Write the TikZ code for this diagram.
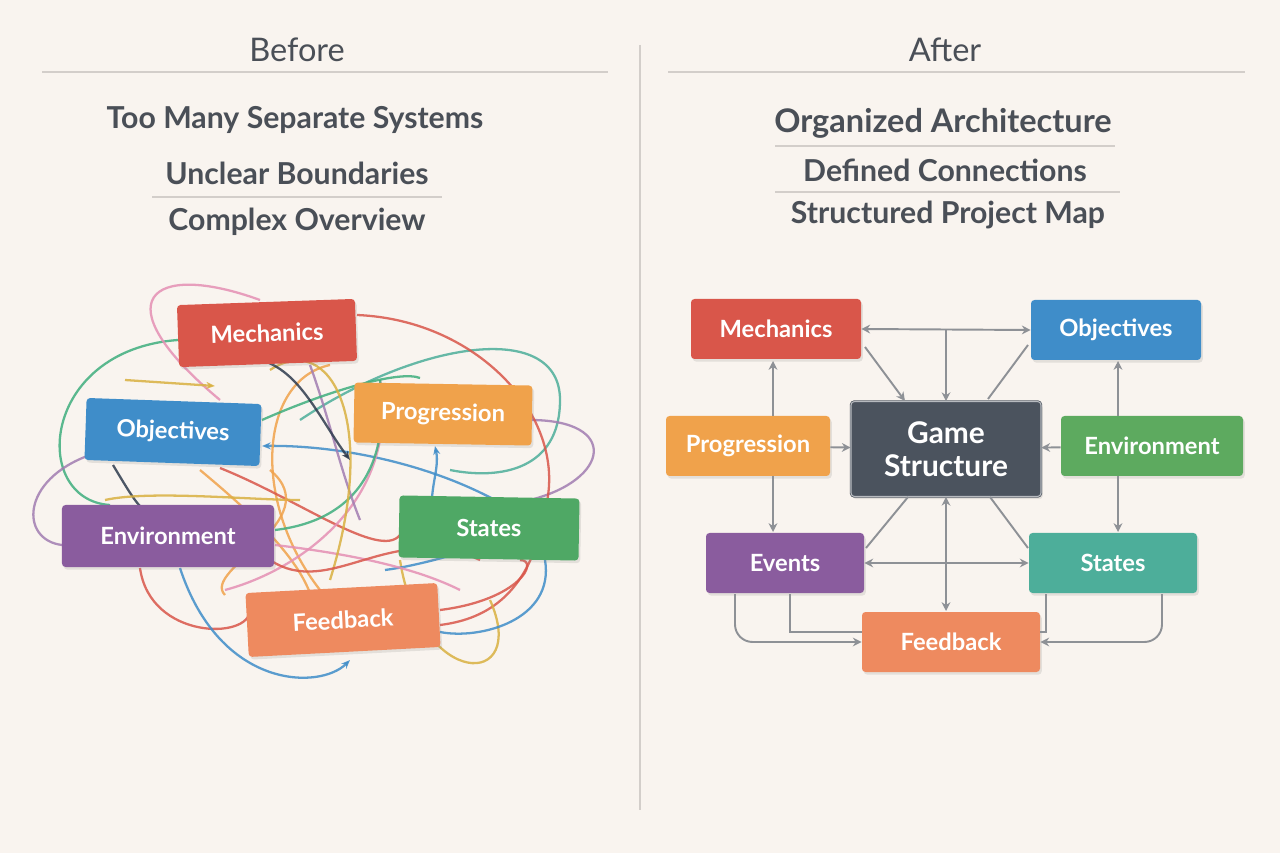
\documentclass[tikz,border=0pt]{standalone}
\usepackage{fontspec}
\setmainfont{Lato}
\usetikzlibrary{arrows.meta,shadows}

\definecolor{bgcol}{HTML}{F9F4EF}
\definecolor{inkcol}{HTML}{4A4F57}
\definecolor{rulecol}{HTML}{D3CECA}
\definecolor{mechcol}{HTML}{D9564A}
\definecolor{objcol}{HTML}{3F8DC9}
\definecolor{progcol}{HTML}{F0A24B}
\definecolor{envcol}{HTML}{8A5C9E}
\definecolor{envgreen}{HTML}{5DAA5F}
\definecolor{statecol}{HTML}{4FA865}
\definecolor{teal}{HTML}{4DAE9A}
\definecolor{feedcol}{HTML}{EE8A5F}
\definecolor{gamecol}{HTML}{4B535E}
\definecolor{wirecol}{HTML}{8E9196}
\definecolor{navy}{HTML}{2E3B4E}
\definecolor{lgreen}{HTML}{3FAE7E}
\definecolor{lpink}{HTML}{E58FB4}
\definecolor{lyellow}{HTML}{D9B040}

\tikzset{
  box/.style={rectangle, rounded corners=2pt, text=white, font=\bfseries\fontsize{13.5}{15}\selectfont,
    inner sep=0pt, drop shadow={opacity=0.18, shadow xshift=1pt, shadow yshift=-1.5pt}},
  title/.style={text=inkcol, font=\fontsize{18.5}{20}\selectfont},
  heading/.style={text=inkcol, font=\bfseries\fontsize{17.2}{19}\selectfont},
  rulel/.style={draw=rulecol, line width=0.8pt},
  wire/.style={draw=wirecol, line width=1.1pt, -{Stealth[length=5pt,width=5pt]}},
  wires/.style={draw=wirecol, line width=1.1pt, {Stealth[length=5pt,width=5pt]}-{Stealth[length=5pt,width=5pt]}},
  line/.style={draw=wirecol, line width=1.1pt},
  tangle/.style={line width=1.3pt, opacity=0.85},
  tip/.style={-{Stealth[length=5pt,width=4pt]}}
}

\begin{document}
\begin{tikzpicture}[x=0.2mm, y=-0.2mm]
\fill[bgcol] (0,0) rectangle (1280,853);
\useasboundingbox (0,0) rectangle (1280,853);

% headers
\node (before) [title] at (297,50) {Before};
\node (after) [title] at (945,50) {After};
\draw[rulel] (42,72) -- (608,72);
\draw[rulel] (668,72) -- (1245,72);
\draw[rulel] (640,45) -- (640,810);

\node (b1) [heading] at (295,120) {Too Many Separate Systems};
\node (b2) [heading] at (297,173) {Unclear Boundaries};
\draw[rulel] (152,197) -- (442,197);
\node (b3) [heading] at (297,222) {Complex Overview};

\node (a1) [heading, font=\bfseries\fontsize{18.5}{20}\selectfont] at (943,123) {Organized Architecture};
\draw[rulel] (775,146) -- (1115,146);
\node (a2) [heading] at (945,170) {Defined Connections};
\draw[rulel] (775,192) -- (1120,192);
\node (a3) [heading] at (948,215) {Structured Project Map};

% tangled curves
\begin{scope}[tangle]
\draw[lgreen] (178,340) .. controls (40,350) and (30,500) .. (110,505);
\draw[lpink] (220,400) .. controls (100,300) and (150,260) .. (260,300);
\draw[teal] (300,420) .. controls (420,340) and (560,320) .. (560,400) .. controls (560,470) and (500,480) .. (450,470);
\draw[envcol!80] (530,420) .. controls (620,420) and (610,480) .. (530,500);
\draw[envcol!80] (90,455) .. controls (20,480) and (20,540) .. (62,545);
\draw[mechcol] (357,315) .. controls (480,320) and (570,420) .. (545,510) .. controls (530,600) and (480,620) .. (440,625);
\draw[objcol, tip] (495,500) .. controls (420,460) and (330,445) .. (262,446);
\draw[lyellow, tip] (125,380) -- (215,386);
\draw[navy] (113,465) .. controls (140,510) .. (165,522);
\draw[progcol] (320,590) .. controls (250,500) and (260,380) .. (330,365);
\draw[mechcol] (140,568) .. controls (150,640) and (250,640) .. (250,610);
\draw[objcol, tip] (180,568) .. controls (220,690) and (320,690) .. (350,660);
\draw[lyellow] (400,560) .. controls (420,690) and (530,690) .. (490,600);
\draw[progcol] (200,470) .. controls (260,520) and (350,600) .. (300,650);
\draw[mechcol] (220,468) .. controls (300,500) and (380,560) .. (400,535);
\draw[lpink] (225,590) .. controls (300,570) and (400,500) .. (380,380);
\draw[lgreen] (275,530) .. controls (360,520) and (390,460) .. (380,380);
\draw[objcol] (385,570) .. controls (460,560) and (530,520) .. (545,560) .. controls (555,620) and (480,640) .. (440,632);
\draw[mechcol] (440,610) .. controls (520,600) and (540,560) .. (520,560);
\draw[envcol!80] (310,365) .. controls (330,420) and (340,470) .. (360,520);
\draw[lyellow] (105,500) .. controls (150,490) and (250,500) .. (300,500);
\draw[objcol, tip] (433,520) .. controls (428,490) and (440,470) .. (435,446);
\draw[lgreen] (262,420) .. controls (330,390) and (400,370) .. (420,378);
\draw[lpink] (275,545) .. controls (360,555) and (420,570) .. (460,590);
\draw[lyellow] (270,370) .. controls (330,330) and (380,420) .. (330,580);
\draw[navy, tip] (260,360) .. controls (300,370) and (320,420) .. (350,460);
\draw[mechcol] (270,560) .. controls (330,600) and (390,520) .. (480,560);
\draw[progcol] (270,470) .. controls (330,520) and (200,570) .. (225,595);
\end{scope}

% left nodes
\node (lmech) [box, fill=mechcol, rotate=2, minimum width=3.56cm, minimum height=1.24cm] at (267,333) {Mechanics};
\node (lobj) [box, fill=objcol, rotate=-2, minimum width=3.5cm, minimum height=1.24cm] at (173,432) {Objectives};
\node (lprog) [box, fill=progcol, rotate=-1, minimum width=3.56cm, minimum height=1.2cm] at (443,414) {Progression};
\node (lenv) [box, fill=envcol, minimum width=4.24cm, minimum height=1.24cm] at (168,536) {Environment};
\node (lstate) [box, fill=statecol, rotate=-1, minimum width=3.6cm, minimum height=1.24cm] at (489,528) {States};
\node (lfeed) [box, fill=feedcol, rotate=3, minimum width=3.84cm, minimum height=1.28cm] at (343,620) {Feedback};

% right nodes
\node (mech) [box, fill=mechcol, minimum width=3.4cm, minimum height=1.2cm] at (776,329) {Mechanics};
\node (obj) [box, fill=objcol, minimum width=3.4cm, minimum height=1.2cm] at (1116,330) {Objectives};
\node (prog) [box, fill=progcol, minimum width=3.28cm, minimum height=1.2cm] at (748,446) {Progression};
\node (game) [box, fill=gamecol, minimum width=3.8cm, minimum height=1.9cm, align=center,
  font=\bfseries\fontsize{17}{19}\selectfont, double=white!60!gamecol, draw=gamecol, double distance=0.6pt] at (946,449) {Game\\Structure};
\node (env) [box, fill=envgreen, minimum width=3.64cm, minimum height=1.2cm] at (1152,446) {Environment};
\node (event) [box, fill=envcol, minimum width=3.16cm, minimum height=1.2cm] at (785,563) {Events};
\node (state) [box, fill=teal, minimum width=3.36cm, minimum height=1.2cm] at (1113,563) {States};
\node (feed) [box, fill=feedcol, minimum width=3.56cm, minimum height=1.2cm] at (951,642) {Feedback};

% right connectors
\coordinate (top) at (946,330);
\coordinate (mechse) at (865,347);
\coordinate (gamenw) at (905,401);
\coordinate (objsw) at (1028,345);
\coordinate (gamene) at (988,399);
\coordinate (gamesw) at (908,497);
\coordinate (gamese) at (990,497);
\coordinate (eventne) at (866,548);
\coordinate (statenw) at (1028,548);
\coordinate (prog1) at (773,416);
\coordinate (mech1) at (773,361);
\coordinate (prog2) at (773,476);
\coordinate (event1) at (773,532);
\coordinate (env1) at (1118,416);
\coordinate (obj1) at (1118,361);
\coordinate (env2) at (1118,476);
\coordinate (state1) at (1118,532);
\coordinate (event2) at (735,594);
\coordinate (event3) at (790,594);
\coordinate (state2) at (1046,594);
\coordinate (state3) at (1162,594);
\coordinate (feedl) at (862,632);
\coordinate (feedr) at (1040,632);
\coordinate (feedt) at (946,611);

\draw[wires] (mech.east) -- (obj.west);
\draw[wire] (top) -- (game.north);
\draw[wire] (mechse) -- (gamenw);
\draw[line] (objsw) -- (gamene);
\draw[wire] (prog) -- (game);
\draw[wire] (env) -- (game);
\draw[wire] (prog1) -- (mech1);
\draw[wire] (prog2) -- (event1);
\draw[wire] (env1) -- (obj1);
\draw[wire] (env2) -- (state1);
\draw[wires] (event.east) -- (state.west);
\draw[wires] (game.south) -- (feedt);
\draw[line] (gamesw) -- (eventne);
\draw[line] (gamese) -- (statenw);
\draw[wire, rounded corners=10pt] (event2) |- (feed.west);
\draw[line] (event3) |- (feedl);
\draw[line] (state2) |- (feedr);
\draw[wire, rounded corners=10pt] (state3) |- (feed.east);
\end{tikzpicture}
\end{document}
